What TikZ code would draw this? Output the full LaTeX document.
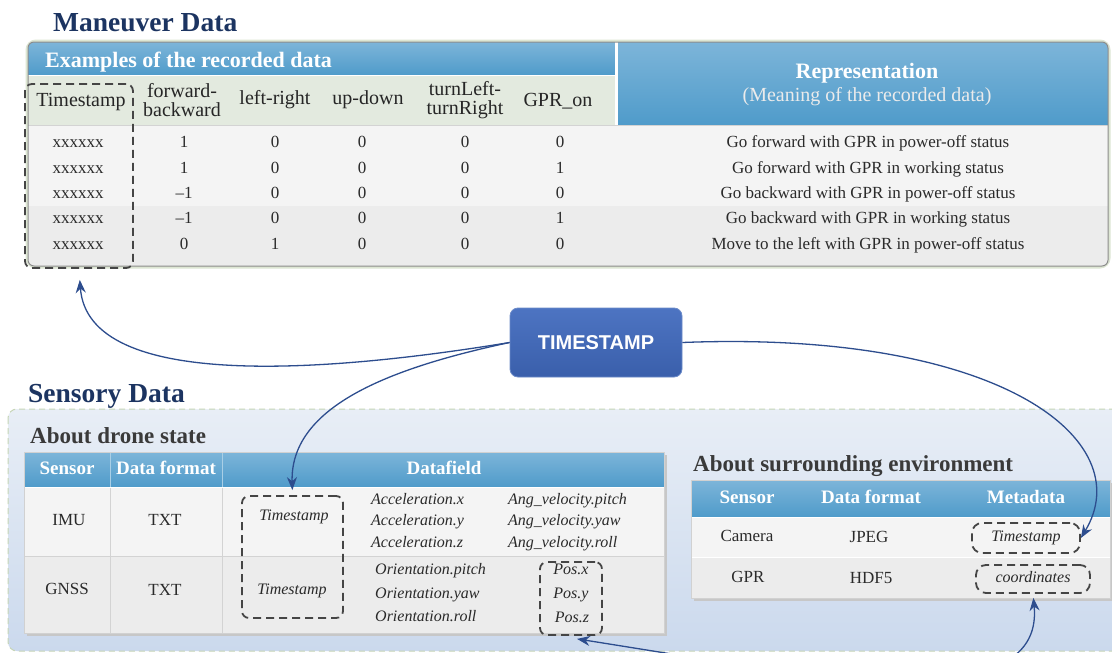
\documentclass[tikz,border=0pt]{standalone}
\usepackage{fontspec}
\setmainfont{Liberation Serif}
\newfontfamily\sansfam{Liberation Sans}
\usetikzlibrary{arrows.meta}

\definecolor{titleblue}{HTML}{1C3461}
\definecolor{hdrtop}{HTML}{7DB5D9}
\definecolor{hdrbot}{HTML}{4F9BCA}
\definecolor{colhdr}{HTML}{E3EADF}
\definecolor{rowA}{HTML}{F4F4F4}
\definecolor{rowB}{HTML}{ECECEC}
\definecolor{glowc}{HTML}{DDE6D3}
\definecolor{boxedge}{HTML}{8C8C8C}
\definecolor{bodyc}{HTML}{2A2A2A}
\definecolor{subc}{HTML}{3A3A3A}
\definecolor{arrowc}{HTML}{2D4D8E}
\definecolor{dashc}{HTML}{454545}
\definecolor{tstop}{HTML}{4D74C2}
\definecolor{tsbot}{HTML}{3A5FAB}
\definecolor{tsedge}{HTML}{6C8BC9}
\definecolor{pantop}{HTML}{E8EEF6}
\definecolor{panbot}{HTML}{CBD9ED}
\definecolor{panedge}{HTML}{C6D5B6}
\definecolor{sepc}{HTML}{D3D3D3}
\definecolor{hsep}{HTML}{A9CFE6}

\tikzset{
  titletxt/.style={font=\fontsize{27.5}{32}\selectfont\bfseries, text=titleblue, inner sep=0pt},
  subtxt/.style={font=\fontsize{23}{27}\selectfont\bfseries, text=subc, inner sep=0pt},
  whd/.style={font=\fontsize{22}{26}\selectfont\bfseries, text=white, inner sep=0pt},
  wsub/.style={font=\fontsize{20}{24}\selectfont, text=white!92!black, inner sep=0pt},
  colht/.style={font=\fontsize{20}{20}\selectfont, text=bodyc!90!black, inner sep=0pt, align=center},
  body/.style={font=\fontsize{17}{20}\selectfont, text=bodyc, inner sep=0pt, text height=11pt, text depth=3.5pt},
  ital/.style={font=\fontsize{16}{19}\selectfont\itshape, text=bodyc, inner sep=0pt, text height=10.5pt, text depth=3.5pt},
  thd/.style={font=\fontsize{19}{23}\selectfont\bfseries, text=white, inner sep=0pt, text height=13pt, text depth=4pt},
  dbox/.style={draw=dashc, line width=1.8pt, dash pattern=on 8pt off 5pt, rounded corners=7pt, inner sep=0pt},
  conn/.style={draw=arrowc, line width=1.3pt, -{Stealth[length=13pt,width=10pt]}},
  conntwo/.style={draw=arrowc, line width=1.3pt, {Stealth[length=13pt,width=10pt]}-{Stealth[length=13pt,width=10pt]}},
  tsnode/.style={rounded corners=8pt, top color=tstop, bottom color=tsbot, draw=tsedge, line width=0.8pt,
     minimum width=172pt, minimum height=69pt, text=white, font=\sansfam\bfseries\fontsize{20}{24}\selectfont},
}

\begin{document}
\begin{tikzpicture}[x=1pt,y=-1pt]
\clip (0,0) rectangle (1112,653);
\fill[white] (0,0) rectangle (1112,653);

% ---------------- Maneuver Data ----------------
\node[titletxt, anchor=base west] (mtitle) at (53,31) {Maneuver Data};

\draw[glowc, line width=5pt, rounded corners=8pt] (28,42) rectangle (1108,266);
\begin{scope}
  \clip[rounded corners=6pt] (28,42) rectangle (1108,266);
  \fill[rowA] (28,42) rectangle (1108,206);
  \fill[rowB] (28,206) rectangle (1108,266);
  \shade[top color=hdrtop, bottom color=hdrbot] (28,42) rectangle (615,75);
  \shade[top color=hdrtop, bottom color=hdrbot] (618,42) rectangle (1108,125);
  \fill[colhdr] (28,76) rectangle (615,125);
  \draw[white, line width=1.2pt] (28,75.5) -- (615,75.5);
  \draw[white, line width=2.5pt] (616.5,42) -- (616.5,125);
  \draw[sepc, line width=1pt] (28,125.5) -- (1108,125.5);
\end{scope}
\draw[boxedge, line width=1pt, rounded corners=6pt] (28,42) rectangle (1108,266);

\node[whd, anchor=base west] (exh) at (45,67) {Examples of the recorded data};
\node[whd] (reph) at (867,73) {Representation};
\node[wsub] (repsub) at (867,97) {(Meaning of the recorded data)};

\node[colht] (h1) at (81,102) {Timestamp};
\node[colht] (h2) at (182,100) {forward-\\[-1pt]backward};
\node[colht] (h3) at (275,100) {left-right};
\node[colht] (h4) at (368,100) {up-down};
\node[colht] (h5) at (465,100) {turnLeft-\\[-1pt]turnRight};
\node[colht] (h6) at (558,101) {GPR\_on};

\foreach \yy/\va/\vb/\vc/\vd/\ve/\tt [count=\i] in {
  144/1/0/0/0/0/{Go forward with GPR in power-off status},
  170/1/0/0/0/1/{Go forward with GPR in working status},
  195/–1/0/0/0/0/{Go backward with GPR in power-off status},
  220/–1/0/0/0/1/{Go backward with GPR in working status},
  245.5/0/1/0/0/0/{Move to the left with GPR in power-off status}}{
  \node[body] (x\i) at (78,\yy) {xxxxxx};
  \node[body] (a\i) at (184,\yy) {\va};
  \node[body] (b\i) at (275,\yy) {\vb};
  \node[body] (c\i) at (362,\yy) {\vc};
  \node[body] (d\i) at (465,\yy) {\vd};
  \node[body] (e\i) at (560,\yy) {\ve};
  \node[body] (r\i) at (868,\yy) {\tt};
}

\node[dbox, minimum width=108pt, minimum height=184pt] (tsM) at (79,176) {};

% ---------------- TIMESTAMP ----------------
\node[tsnode] (ts) at (596,342.5) {TIMESTAMP};

% ---------------- Sensory Data ----------------
\node[titletxt, anchor=base west] (stitle) at (28,402) {Sensory Data};

\shade[top color=pantop, bottom color=panbot, rounded corners=9pt] (8,409) rectangle (1130,651);
\draw[panedge, line width=1pt, dash pattern=on 6pt off 4pt, rounded corners=9pt] (8,409) rectangle (1130,651);

\node[subtxt, anchor=base west] (ads) at (30,443) {About drone state};

% left table
\fill[black!22] (26.5,454.5) rectangle (666.5,635.5);
\shade[top color=hdrtop, bottom color=hdrbot] (24,452) rectangle (664,487);
\fill[rowA] (24,487) rectangle (664,556);
\fill[rowB] (24,556) rectangle (664,633);
\draw[white, line width=1pt] (24,487.5) -- (664,487.5);
\draw[hsep, line width=1pt] (110,452) -- (110,487) (222,452) -- (222,487);
\draw[sepc, line width=1pt] (110,488) -- (110,633) (222,488) -- (222,633) (24,556) -- (664,556);
\draw[black!18, line width=0.8pt] (24,452) rectangle (664,633);

\node[thd] (lh1) at (67,470) {Sensor};
\node[thd] (lh2) at (166,470) {Data format};
\node[thd] (lh3) at (444,470) {Datafield};

\node[body] (imu) at (69,522) {IMU};
\node[body] (imufmt) at (165,522) {TXT};
\node[body] (gnss) at (67,591) {GNSS};
\node[body] (gnssfmt) at (165,592) {TXT};

\node[ital] (imuts) at (294,517) {Timestamp};
\node[ital] (gnssts) at (292,591) {Timestamp};

\node[ital, anchor=west] (accx) at (371,501) {Acceleration.x};
\node[ital, anchor=west] (accy) at (371,522) {Acceleration.y};
\node[ital, anchor=west] (accz) at (371,544) {Acceleration.z};
\node[ital, anchor=west] (angp) at (508,501) {Ang\_velocity.pitch};
\node[ital, anchor=west] (angy) at (508,522) {Ang\_velocity.yaw};
\node[ital, anchor=west] (angr) at (508,544) {Ang\_velocity.roll};
\node[ital, anchor=west] (orip) at (375,571) {Orientation.pitch};
\node[ital, anchor=west] (oriy) at (375,595) {Orientation.yaw};
\node[ital, anchor=west] (orir) at (375,618) {Orientation.roll};
\node[ital] (posx) at (571,571) {Pos.x};
\node[ital] (posy) at (571,595) {Pos.y};
\node[ital] (posz) at (572,619) {Pos.z};

\node[dbox, minimum width=101pt, minimum height=122pt] (tsIMU) at (292.5,557) {};
\node[dbox, minimum width=62pt, minimum height=73pt] (posB) at (571,598.5) {};

% right table
\node[subtxt, anchor=base west] (ase) at (693,471) {About surrounding environment};
\fill[black!22] (693.5,482.5) rectangle (1113,600.5);
\shade[top color=hdrtop, bottom color=hdrbot] (691,480) rectangle (1110,517);
\fill[rowA] (691,517) rectangle (1110,557);
\fill[rowB] (691,557) rectangle (1110,598);
\draw[white, line width=1pt] (691,517.5) -- (1110,517.5);
\draw[white, line width=1.5pt] (691,557.5) -- (1110,557.5);
\draw[black!18, line width=0.8pt] (691,480) rectangle (1110,598);

\node[thd] (rh1) at (747,499) {Sensor};
\node[thd] (rh2) at (871,499) {Data format};
\node[thd] (rh3) at (1026,499) {Metadata};

\node[body] (cam) at (747,538) {Camera};
\node[body] (jpeg) at (869,539) {JPEG};
\node[body] (gpr) at (748,579) {GPR};
\node[body] (hdf) at (871,580) {HDF5};

\node[dbox, rounded corners=10pt, minimum width=108pt, minimum height=30pt, ital] (camTS) at (1026,538) {Timestamp};
\node[dbox, rounded corners=10pt, minimum width=114pt, minimum height=28pt, ital] (coordB) at (1033,579) {coordinates};

% ---------------- connectors ----------------
\draw[conn, shorten >=11pt] (ts.west) .. controls (330,372) and (88,392) .. (tsM.south);
\draw[conn, shorten >=5pt] (ts.west) .. controls (380,370) and (290,410) .. (tsIMU.north);
\draw[conn] (ts.east) .. controls (1000,330) and (1140,440) .. (camTS.east);
\draw[conntwo, shorten >=4pt] ([xshift=6pt,yshift=-3pt]posB.south) .. controls (800,674) and (1045,722) .. (coordB.south);

\end{tikzpicture}
\end{document}
